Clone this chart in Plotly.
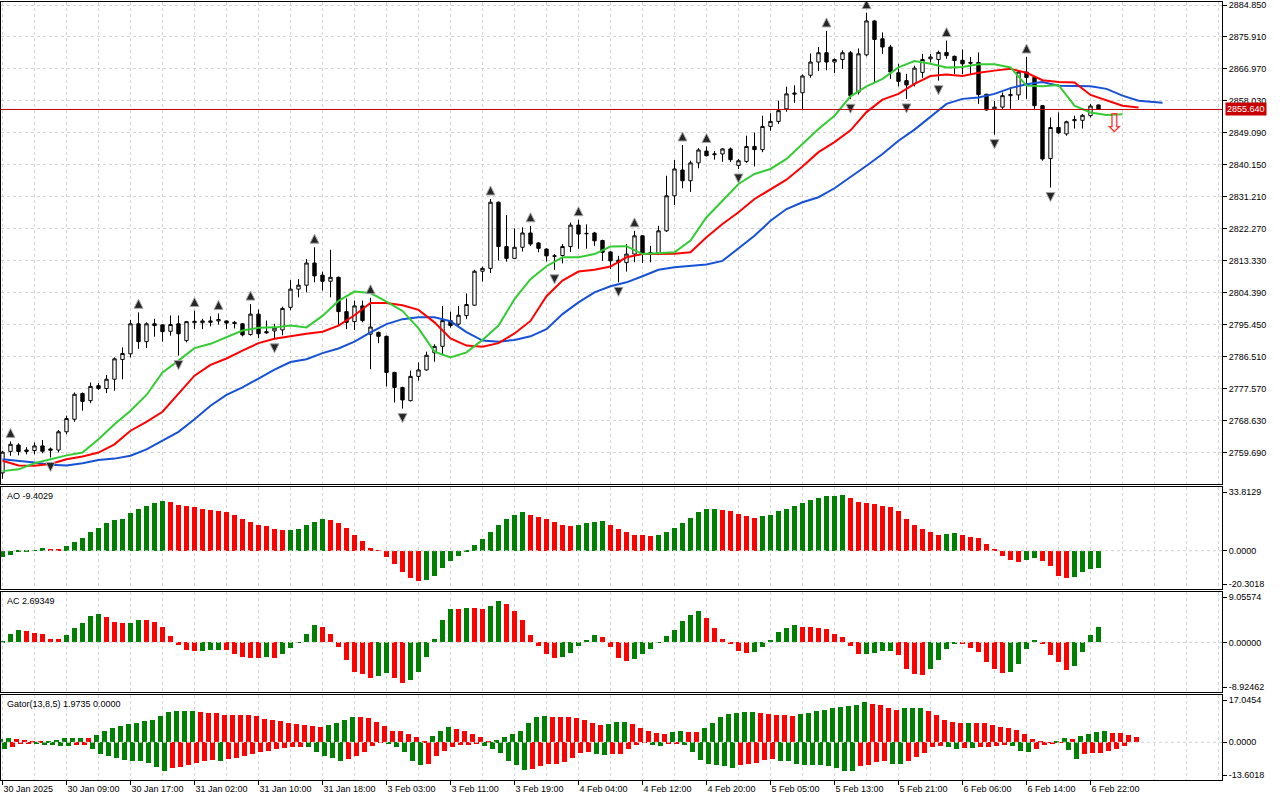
import plotly.graph_objects as go

# ---------------- DATA ----------------
# H1 bars, index 0 = 30 Jan 2025 01:00 ... index 137 = 6 Feb 23:00
opens = [2754.0, 2760.0, 2761.8, 2760.4, 2760.25, 2761.55, 2760.7, 2760.4, 2765.5, 2769.0,
         2776.2, 2774.2, 2778.4, 2777.6, 2780.2, 2785.7, 2787.3, 2795.7, 2790.7, 2795.7,
         2795.4, 2793.6, 2795.7, 2791.0, 2796.0, 2796.0, 2796.1, 2796.5, 2796.5, 2796.1,
         2795.7, 2792.7, 2798.4, 2793.5, 2793.7, 2794.0, 2800.3, 2805.4, 2806.5, 2812.7,
         2809.3, 2807.6, 2808.7, 2799.1, 2796.3, 2800.7, 2792.8, 2793.3, 2792.2, 2782.1,
         2777.9, 2774.2, 2781.0, 2782.8, 2787.6, 2789.4, 2796.6, 2795.6, 2798.0, 2800.9,
         2810.4, 2811.2, 2829.7, 2817.3, 2814.0, 2817.1, 2821.1, 2818.3, 2816.6, 2814.7,
         2814.8, 2817.3, 2823.3, 2821.0, 2821.1, 2819.0, 2815.8, 2813.5, 2812.8, 2815.2,
         2820.3, 2815.6, 2815.4, 2821.7, 2831.5, 2838.7, 2835.7, 2840.7, 2844.0, 2843.0,
         2843.2, 2844.6, 2840.0, 2841.1, 2845.3, 2844.4, 2850.9, 2852.3, 2855.8, 2859.9,
         2860.3, 2865.2, 2868.9, 2871.5, 2868.9, 2869.6, 2871.5, 2860.5, 2870.9, 2880.4,
         2875.4, 2873.1, 2865.9, 2863.7, 2862.8, 2866.0, 2869.8, 2869.6, 2871.6, 2870.5,
         2869.4, 2868.8, 2868.8, 2859.9, 2855.8, 2856.3, 2859.5, 2859.7, 2866.1, 2864.6,
         2856.7, 2841.9, 2850.6, 2848.8, 2852.5, 2852.6, 2853.9, 2856.9]
highs = [2760.2, 2762.8, 2762.3, 2761.2, 2762.5, 2763.2, 2761.1, 2766.0, 2770.0, 2776.5,
         2776.5, 2779.3, 2779.1, 2781.4, 2786.3, 2789.1, 2796.8, 2798.9, 2796.1, 2797.1,
         2795.6, 2798.0, 2798.0, 2796.5, 2799.4, 2797.1, 2797.8, 2798.6, 2796.6, 2796.5,
         2795.9, 2801.2, 2799.7, 2796.6, 2795.7, 2800.5, 2807.9, 2808.2, 2813.8, 2817.1,
         2810.3, 2816.4, 2808.9, 2802.8, 2802.2, 2802.2, 2803.0, 2793.5, 2792.4, 2782.3,
         2778.1, 2782.6, 2784.9, 2787.9, 2790.0, 2800.7, 2799.1, 2800.7, 2804.2, 2810.8,
         2811.7, 2830.6, 2829.9, 2826.1, 2822.4, 2822.7, 2823.1, 2818.5, 2816.8, 2815.2,
         2818.0, 2824.0, 2824.8, 2823.5, 2821.4, 2819.2, 2816.0, 2814.7, 2818.0, 2821.7,
         2820.5, 2817.5, 2823.1, 2837.1, 2841.5, 2845.7, 2841.3, 2844.8, 2845.3, 2844.0,
         2844.8, 2845.0, 2841.8, 2848.3, 2849.2, 2853.9, 2854.6, 2858.1, 2862.0, 2862.4,
         2865.4, 2871.3, 2873.1, 2877.6, 2869.9, 2872.2, 2872.0, 2872.7, 2882.7, 2880.6,
         2877.2, 2873.7, 2868.4, 2865.6, 2867.9, 2871.2, 2871.2, 2872.1, 2874.9, 2870.7,
         2872.4, 2870.3, 2871.6, 2860.0, 2858.0, 2860.4, 2861.8, 2866.3, 2870.3, 2864.8,
         2856.9, 2853.4, 2854.8, 2852.5, 2853.9, 2854.4, 2857.2, 2857.0]
lows = [2752.4, 2758.8, 2758.9, 2759.2, 2759.2, 2759.5, 2758.3, 2759.7, 2764.8, 2768.3,
        2771.4, 2773.5, 2777.2, 2776.3, 2777.0, 2780.2, 2786.3, 2788.7, 2788.9, 2792.1,
        2790.7, 2792.4, 2786.8, 2790.5, 2794.2, 2794.2, 2795.0, 2795.5, 2794.2, 2794.4,
        2792.2, 2792.4, 2791.7, 2792.9, 2791.5, 2792.5, 2799.5, 2803.1, 2804.5, 2807.3,
        2805.0, 2803.1, 2795.3, 2794.2, 2794.0, 2796.1, 2783.0, 2790.3, 2778.2, 2773.7,
        2772.0, 2774.0, 2779.8, 2782.6, 2785.1, 2786.9, 2794.6, 2795.2, 2797.0, 2800.7,
        2807.5, 2809.9, 2813.4, 2813.1, 2813.8, 2815.9, 2817.5, 2815.7, 2813.1, 2810.8,
        2812.6, 2815.8, 2816.7, 2816.7, 2817.5, 2813.3, 2811.0, 2807.3, 2810.3, 2812.9,
        2812.7, 2812.9, 2814.9, 2821.4, 2828.9, 2833.6, 2832.6, 2839.2, 2842.5, 2841.6,
        2841.0, 2841.0, 2839.0, 2840.7, 2839.7, 2843.7, 2849.7, 2851.6, 2855.0, 2857.5,
        2855.5, 2864.5, 2866.4, 2866.6, 2865.8, 2867.0, 2858.5, 2859.8, 2870.5, 2863.2,
        2871.2, 2864.2, 2862.1, 2858.6, 2862.1, 2864.5, 2868.8, 2863.7, 2869.8, 2865.5,
        2865.5, 2865.5, 2857.2, 2855.3, 2848.6, 2855.8, 2855.8, 2858.3, 2858.6, 2855.8,
        2841.3, 2833.8, 2848.8, 2848.3, 2850.3, 2850.3, 2853.4, 2855.5]
closes = [2759.8, 2762.0, 2760.0, 2760.05, 2761.55, 2760.05, 2760.35, 2765.5, 2769.2, 2776.0,
          2774.0, 2778.2, 2777.6, 2780.2, 2785.9, 2787.4, 2795.7, 2790.7, 2795.7, 2795.2,
          2793.5, 2795.5, 2792.9, 2796.3, 2796.4, 2796.5, 2796.5, 2796.9, 2795.9, 2795.8,
          2792.6, 2798.4, 2792.9, 2793.2, 2794.5, 2800.0, 2805.4, 2806.5, 2812.7, 2809.1,
          2807.6, 2808.7, 2799.1, 2796.1, 2800.7, 2796.6, 2794.8, 2792.2, 2782.1, 2777.9,
          2774.4, 2781.0, 2782.8, 2786.9, 2789.4, 2796.6, 2795.2, 2798.1, 2801.1, 2810.4,
          2811.2, 2829.7, 2817.3, 2814.0, 2817.1, 2821.1, 2818.0, 2816.8, 2814.7, 2814.6,
          2817.3, 2823.3, 2820.8, 2820.9, 2818.9, 2815.7, 2813.3, 2812.9, 2815.2, 2820.3,
          2815.5, 2815.2, 2821.7, 2831.5, 2839.0, 2835.7, 2840.7, 2844.3, 2842.7, 2843.2,
          2844.6, 2841.6, 2841.3, 2845.3, 2844.4, 2850.9, 2852.3, 2855.3, 2860.0, 2860.2,
          2865.0, 2868.9, 2871.5, 2868.9, 2869.6, 2871.5, 2859.5, 2871.2, 2880.4, 2875.2,
          2873.1, 2866.1, 2863.5, 2862.5, 2867.2, 2869.6, 2870.3, 2871.6, 2870.7, 2869.3,
          2868.4, 2868.6, 2859.8, 2855.5, 2856.3, 2859.5, 2859.8, 2866.1, 2864.6, 2856.7,
          2841.8, 2850.6, 2849.1, 2852.2, 2852.8, 2854.0, 2856.6, 2855.64]

# Alligator lines (read every 2 bars; drawn shifted into the future)
jaw_x = list(range(0, 146, 2)) + [145]
jaw = [2757.8, 2757.4, 2756.9, 2756.3, 2756.1, 2756.7, 2757.6, 2758.0, 2758.8, 2760.6,
       2763.0, 2765.5, 2769.0, 2772.8, 2775.8, 2777.9, 2780.4, 2782.9, 2785.0, 2785.8,
       2787.5, 2788.8, 2790.7, 2793.3, 2795.6, 2797.0, 2797.5, 2797.5, 2796.4, 2793.4,
       2791.0, 2790.7, 2791.2, 2792.2, 2794.2, 2798.4, 2801.7, 2804.5, 2806.2, 2807.3,
       2809.0, 2810.8, 2811.5, 2811.8, 2812.3, 2813.3, 2816.8, 2820.3, 2824.5, 2827.8,
       2829.7, 2831.1, 2833.6, 2836.7, 2839.9, 2843.2, 2846.9, 2850.0, 2853.5, 2857.2,
       2858.6, 2859.0, 2860.0, 2861.6, 2862.7, 2863.3, 2862.3, 2862.1, 2862.1, 2861.4,
       2859.5, 2858.1, 2857.6, 2857.5]
teeth_x = list(range(0, 143, 2))
teeth = [2757.4, 2756.1, 2756.0, 2756.5, 2757.8, 2758.6, 2759.7, 2762.0, 2765.8, 2768.3,
         2771.1, 2776.0, 2781.2, 2784.2, 2786.0, 2788.2, 2790.3, 2791.5, 2792.3, 2792.9,
         2793.5, 2795.2, 2798.1, 2801.5, 2801.5, 2800.9, 2799.6, 2796.1, 2791.6, 2789.6,
         2789.3, 2790.3, 2793.0, 2796.5, 2803.4, 2807.8, 2810.3, 2810.8, 2811.7, 2814.3,
         2815.2, 2815.2, 2815.3, 2815.7, 2819.9, 2823.6, 2826.9, 2830.6, 2833.4, 2836.0,
         2839.7, 2843.7, 2846.5, 2849.8, 2854.9, 2858.4, 2860.0, 2862.8, 2865.0, 2865.4,
         2865.0, 2865.9, 2866.5, 2867.0, 2865.9, 2863.8, 2863.3, 2863.2, 2859.7, 2858.1,
         2856.7, 2856.2]
lips_x = list(range(0, 141, 2))
lips = [2754.5, 2755.0, 2756.7, 2757.8, 2758.9, 2759.7, 2763.4, 2767.6, 2771.4, 2775.8,
        2782.1, 2785.4, 2788.9, 2790.1, 2791.9, 2793.8, 2794.6, 2794.7, 2795.2, 2794.7,
        2797.9, 2802.1, 2804.7, 2804.3, 2801.9, 2799.3, 2794.4, 2787.9, 2786.3, 2787.7,
        2791.2, 2795.2, 2802.6, 2808.2, 2811.8, 2814.3, 2814.3, 2815.2, 2817.3, 2817.4,
        2815.2, 2815.5, 2815.7, 2819.0, 2825.5, 2830.1, 2834.8, 2837.6, 2839.0, 2841.8,
        2846.0, 2850.2, 2853.9, 2859.3, 2862.1, 2864.2, 2867.4, 2869.2, 2868.4, 2867.4,
        2867.5, 2868.3, 2868.3, 2867.4, 2862.3, 2862.1, 2862.5, 2856.7, 2854.8, 2854.1,
        2854.3]

# Bill Williams fractals (bar indices)
fractal_up_bars = [1, 17, 24, 27, 31, 39, 46, 61, 66, 72, 79, 85, 88, 103, 108, 118, 128]
fractal_down_bars = [6, 22, 34, 50, 69, 77, 92, 106, 113, 117, 124, 131]

# Current sell-signal arrow
signal_bar = [139]
signal_price = [2851.2]

# Awesome Oscillator
ao = [-3.5, -2.2, -0.4, -0.2, 0.3, 1.2, 1.1, 1.0, 2.7, 4.9,
      7.0, 10.2, 12.3, 14.5, 16.1, 17.1, 19.8, 21.9, 23.5, 25.1,
      26.2, 25.7, 24.4, 23.5, 23.0, 22.3, 21.4, 20.9, 20.3, 18.7,
      17.0, 15.5, 13.9, 12.9, 11.3, 10.8, 11.1, 11.6, 13.4, 15.5,
      16.6, 16.1, 14.5, 12.0, 8.1, 5.4, 1.5, -0.1, -3.1, -7.3,
      -11.4, -14.4, -15.9, -15.3, -13.6, -9.3, -5.7, -2.9, -0.3, 3.3,
      6.3, 9.7, 13.9, 17.1, 18.7, 20.3, 19.1, 17.7, 16.8, 15.1,
      13.9, 13.2, 13.5, 14.5, 15.5, 15.6, 13.9, 11.3, 9.7, 8.6,
      8.1, 8.0, 8.6, 9.7, 11.8, 14.5, 17.6, 20.3, 21.9, 22.0,
      21.4, 20.9, 19.3, 18.2, 17.6, 18.2, 18.7, 20.9, 21.9, 24.0,
      25.1, 26.7, 27.8, 28.8, 28.9, 29.4, 27.8, 25.6, 25.1, 24.6,
      23.5, 23.0, 20.9, 17.1, 13.9, 11.3, 9.7, 8.6, 9.1, 9.2,
      8.6, 7.5, 6.5, 3.8, 0.6, -2.6, -4.7, -5.8, -4.7, -3.6,
      -5.2, -7.9, -13.2, -14.3, -13.7, -11.1, -9.5, -9.4029]

# Accelerator Oscillator
ac = [0.1, 1.56, 2.22, 2.10, 1.74, 1.56, 0.66, 0.62, 1.38, 2.64,
      3.54, 4.79, 5.15, 4.61, 3.71, 3.42, 3.54, 4.07, 4.05, 3.71,
      2.82, 1.20, -0.54, -1.44, -1.62, -1.60, -1.44, -1.32, -1.44, -2.16,
      -2.70, -2.88, -2.90, -2.70, -2.88, -2.16, -0.96, 0.06, 1.56, 3.18,
      2.82, 1.56, -0.78, -3.24, -5.39, -5.75, -6.47, -6.11, -5.57, -6.47,
      -7.37, -6.83, -5.39, -2.70, 0.60, 4.07, 6.05, 6.00, 6.20, 6.15,
      6.05, 6.59, 7.49, 6.95, 5.69, 4.07, 1.38, -0.72, -2.16, -2.88,
      -2.70, -1.98, -0.72, 0.48, 1.38, 1.02, -0.78, -2.76, -3.42, -3.06,
      -2.16, -1.26, 0.06, 1.20, 2.28, 3.89, 4.97, 5.69, 4.43, 2.64,
      0.66, -0.36, -1.62, -1.98, -1.80, -0.90, 0.48, 1.92, 2.64, 3.18,
      2.82, 2.80, 2.64, 2.46, 1.56, 1.02, -0.72, -2.16, -2.14, -1.98,
      -1.62, -1.60, -2.34, -4.85, -5.75, -5.93, -4.85, -3.24, -1.26, -0.36,
      -0.38, -1.08, -1.80, -3.60, -4.85, -5.57, -5.39, -3.95, -1.26, 0.48,
      -0.36, -2.34, -3.60, -5.03, -4.31, -1.80, 1.38, 2.69349]

# Gator oscillator (magnitudes; upper plotted up, lower plotted down)
gator_upper = [1.26, 1.50, 1.35, 1.00, 0.50, 0.30, 0.50, 1.00, 1.45, 1.50,
               1.55, 1.50, 2.50, 3.90, 5.10, 6.00, 6.60, 7.00, 7.80, 7.90,
               9.40, 10.90, 11.10, 11.15, 11.20, 10.90, 10.70, 10.50, 10.00, 9.80,
               9.75, 9.70, 9.30, 8.40, 8.10, 7.50, 7.00, 6.60, 6.30, 5.80,
               5.50, 6.40, 7.00, 8.20, 9.00, 8.95, 8.90, 7.30, 5.80, 4.20,
               4.00, 2.90, 1.90, 0.40, 2.20, 4.20, 5.50, 4.80, 4.00, 2.90,
               1.90, 0.30, 0.70, 1.90, 2.90, 4.20, 6.90, 9.00, 9.30, 9.10,
               9.05, 9.00, 8.70, 8.00, 6.90, 6.20, 6.55, 7.30, 7.35, 6.55,
               5.10, 4.00, 3.30, 2.90, 3.70, 4.00, 3.70, 3.60, 5.10, 6.90,
               9.20, 10.20, 10.50, 10.85, 10.90, 10.60, 10.30, 9.80, 9.70, 9.40,
               10.20, 10.50, 11.20, 11.60, 12.30, 12.70, 13.00, 13.40, 14.40, 13.90,
               13.40, 12.30, 11.60, 12.30, 12.35, 12.40, 11.20, 9.70, 8.00, 7.30,
               6.90, 6.95, 6.85, 6.80, 6.10, 5.50, 5.10, 4.40, 2.90, 1.15,
               0.30, 0.10, 0.60, 1.40, 1.20, 2.20, 2.90, 3.70, 3.90, 3.30,
               3.25, 2.60, 1.9735]
gator_lower = [2.30, 1.70, 0.60, 0.30, 0.40, 0.90, 0.95, 1.20, 1.25, 1.00,
               0.90, 2.60, 4.10, 5.10, 5.60, 6.30, 6.80, 6.85, 7.40, 8.90,
               10.30, 9.40, 9.00, 8.30, 7.40, 6.60, 6.50, 6.80, 6.00, 5.50,
               4.80, 4.20, 3.60, 3.20, 2.60, 2.10, 1.70, 1.60, 1.80, 3.60,
               4.80, 5.60, 6.60, 6.00, 5.00, 3.60, 1.20, 0.20, 0.35, 1.80,
               3.60, 6.60, 8.10, 7.80, 4.80, 3.00, 1.80, 0.90, 0.85, 0.50,
               1.20, 2.40, 3.80, 6.60, 8.10, 9.90, 9.50, 8.40, 7.90, 7.80,
               7.20, 5.60, 4.00, 3.55, 4.15, 4.75, 4.27, 4.15, 2.60, 1.15,
               0.20, 1.15, 1.40, 0.55, 0.50, 0.90, 3.55, 6.30, 8.00, 8.10,
               8.60, 9.10, 8.10, 8.00, 7.40, 6.55, 6.00, 6.60, 6.90, 7.75,
               8.10, 8.20, 8.35, 8.45, 9.30, 10.30, 10.50, 8.60, 8.35, 7.15,
               6.90, 7.75, 7.80, 6.90, 5.35, 3.80, 1.85, 1.40, 1.75, 2.35,
               2.00, 2.10, 1.75, 1.60, 1.40, 0.90, 1.50, 3.30, 3.35, 2.35,
               1.15, 0.30, 0.20, 2.95, 5.95, 4.15, 4.00, 3.80, 3.30, 2.60,
               1.40]

# Axis scales shown on the chart
price_tick0, price_step = 2759.69, 8.94
ao_range = [-20.3018, 33.8129]
ac_range = [-8.92462, 9.05574]
gator_range = [-13.6018, 17.0454]

x_tick_labels = ["30 Jan 2025", "30 Jan 09:00", "30 Jan 17:00", "31 Jan 02:00", "31 Jan 10:00",
                 "31 Jan 18:00", "3 Feb 03:00", "3 Feb 11:00", "3 Feb 19:00", "4 Feb 04:00",
                 "4 Feb 12:00", "4 Feb 20:00", "5 Feb 05:00", "5 Feb 13:00", "5 Feb 21:00",
                 "6 Feb 06:00", "6 Feb 14:00", "6 Feb 22:00"]
x_tick_bars = [8 * i for i in range(len(x_tick_labels))]

# ---------------- LAYOUT GEOMETRY ----------------
W, H = 1280, 800
ML, MR, MT, MB = 1, 58, 2, 20
PB = H - MB
PH = H - MT - MB
BAR_PX = 8.0
FIRST_BAR_PX = 2.5


def ydom(top_px, bot_px):
    return [(PB - bot_px) / PH, (PB - top_px) / PH]


panes = {"price": (2, 484), "ao": (487, 589), "ac": (592, 692), "gator": (695, 780)}
x_min = (ML - FIRST_BAR_PX) / BAR_PX
x_max = (W - MR - FIRST_BAR_PX) / BAR_PX

PX_PER_PRICE = 3.571
price_top = price_tick0 + 14 * price_step + 3 / PX_PER_PRICE
price_bot = 2750.9

GREEN = "#008000"
RED = "#ff0000"
GRID = "#d4d4d4"
FONT = "Liberation Sans, Arial, sans-serif"

bars = list(range(len(closes)))


def trend_colors(vals, absolute=False):
    out = []
    for i, v in enumerate(vals):
        if i == 0:
            out.append(GREEN)
            continue
        a, b = (abs(v), abs(vals[i - 1])) if absolute else (v, vals[i - 1])
        out.append(GREEN if a > b else RED)
    return out


fig = go.Figure()

fig.add_trace(go.Candlestick(
    x=bars, open=opens, high=highs, low=lows, close=closes,
    increasing=dict(fillcolor="white", line=dict(color="black", width=1)),
    decreasing=dict(fillcolor="black", line=dict(color="black", width=1)),
    whiskerwidth=0, xaxis="x", yaxis="y", hoverinfo="skip"))

fig.add_trace(go.Scatter(x=jaw_x, y=jaw, mode="lines", line=dict(color="#1652d8", width=2),
                         xaxis="x", yaxis="y"))
fig.add_trace(go.Scatter(x=teeth_x, y=teeth, mode="lines", line=dict(color="#ff0000", width=2),
                         xaxis="x", yaxis="y"))
fig.add_trace(go.Scatter(x=lips_x, y=lips, mode="lines", line=dict(color="#33cc33", width=2),
                         xaxis="x", yaxis="y"))

up_gap = 13 / PX_PER_PRICE
dn_gap = 14 / PX_PER_PRICE
fig.add_trace(go.Scatter(
    x=fractal_up_bars, y=[highs[i] + up_gap for i in fractal_up_bars], mode="markers",
    marker=dict(symbol="arrow-up", size=9, color="#262626", line=dict(color="#a8a8a8", width=1)),
    xaxis="x", yaxis="y"))
fig.add_trace(go.Scatter(
    x=fractal_down_bars, y=[lows[i] - dn_gap for i in fractal_down_bars], mode="markers",
    marker=dict(symbol="arrow-down", size=9, color="#262626", line=dict(color="#a8a8a8", width=1)),
    xaxis="x", yaxis="y"))

fig.add_trace(go.Scatter(
    x=signal_bar, y=signal_price, mode="text", text=["\u21e9"],
    textfont=dict(family="DejaVu Sans", size=26, color="#ff3030"),
    xaxis="x", yaxis="y"))

fig.add_trace(go.Bar(x=bars, y=ao, marker=dict(color=trend_colors(ao), line=dict(width=0)),
                     width=0.55, xaxis="x2", yaxis="y2"))
fig.add_trace(go.Bar(x=bars, y=ac, marker=dict(color=trend_colors(ac), line=dict(width=0)),
                     width=0.55, xaxis="x3", yaxis="y3"))
fig.add_trace(go.Bar(x=list(range(len(gator_upper))), y=gator_upper,
                     marker=dict(color=trend_colors(gator_upper, True), line=dict(width=0)),
                     width=0.55, xaxis="x4", yaxis="y4"))
fig.add_trace(go.Bar(x=list(range(len(gator_lower))), y=[-v for v in gator_lower],
                     marker=dict(color=trend_colors(gator_lower, True), line=dict(width=0)),
                     width=0.55, xaxis="x4", yaxis="y4"))


def xaxis_cfg(anchor, labels):
    return dict(
        anchor=anchor, domain=[0, 1], range=[x_min, x_max],
        tickmode="array", tickvals=x_tick_bars,
        ticktext=x_tick_labels if labels else [""] * len(x_tick_bars),
        showticklabels=labels, ticks="outside" if labels else "", ticklen=4,
        tickcolor="black", ticklabelposition="outside right",
        showgrid=True, gridcolor=GRID, griddash="3px,3px", gridwidth=1,
        minor=dict(tickmode="linear", tick0=0, dtick=4, showgrid=True, gridcolor=GRID,
                   griddash="3px,3px", ticks=""),
        showline=True, mirror=True, linecolor="black", linewidth=1, zeroline=False,
        rangeslider=dict(visible=False),
        tickfont=dict(family=FONT, size=9, color="black"))


def sub_yaxis(rng, pane, fmt):
    top, bot = panes[pane]
    per_px = (rng[1] - rng[0]) / (bot - top)
    inset = 5 * per_px
    return dict(
        anchor="x" + {"ao": "2", "ac": "3", "gator": "4"}[pane], domain=ydom(top, bot),
        range=rng, side="right", tickmode="array",
        tickvals=[rng[1] - inset, 0, rng[0] + inset],
        ticktext=[fmt.format(rng[1]), fmt.format(0), fmt.format(rng[0])],
        ticks="outside", ticklen=4, tickcolor="black", showgrid=False, zeroline=False,
        showline=True, mirror=True, linecolor="black", linewidth=1,
        tickfont=dict(family=FONT, size=9, color="black"))


fig.update_layout(
    width=W, height=H, margin=dict(l=ML, r=MR, t=MT, b=MB),
    paper_bgcolor="white", plot_bgcolor="white", showlegend=False, boxgap=0.4,
    hovermode=False, bargap=0,
    font=dict(family=FONT, size=9, color="black"),
    xaxis=xaxis_cfg("y", False),
    xaxis2=xaxis_cfg("y2", False),
    xaxis3=xaxis_cfg("y3", False),
    xaxis4=xaxis_cfg("y4", True),
    yaxis=dict(anchor="x", domain=ydom(*panes["price"]), range=[price_bot, price_top],
               side="right", tickmode="linear", tick0=price_tick0, dtick=price_step,
               tickformat=".3f", ticks="outside", ticklen=4, tickcolor="black",
               showgrid=True, gridcolor=GRID, griddash="3px,3px", gridwidth=1,
               zeroline=False, showline=True, mirror=True, linecolor="black", linewidth=1,
               tickfont=dict(family=FONT, size=9, color="black")),
    yaxis2=sub_yaxis(ao_range, "ao", "{:.4f}"),
    yaxis3=sub_yaxis(ac_range, "ac", "{:.5f}"),
    yaxis4=sub_yaxis(gator_range, "gator", "{:.4f}"),
)

# zero reference lines in the oscillator panes
for ax in ("2", "3", "4"):
    fig.add_shape(type="line", xref="x%s domain" % ax, yref="y" + ax, x0=0, x1=1, y0=0, y1=0,
                  line=dict(color="#d0d0d0", width=1, dash="3px,3px"), layer="above")

# bid line and price label
last_price = closes[-1]
fig.add_shape(type="line", xref="x domain", yref="y", x0=0, x1=1, y0=last_price, y1=last_price,
              line=dict(color="#c00000", width=1), layer="above")
fig.add_annotation(xref="paper", yref="y", x=1, y=last_price, xanchor="left", yanchor="middle",
                   xshift=3, text="%.3f" % last_price, showarrow=False,
                   font=dict(family=FONT, size=9, color="white"), bgcolor="#c80000", borderpad=1)

# indicator captions
captions = [("ao", "AO %.4f" % ao[-1]),
            ("ac", "AC %.5f" % ac[-1]),
            ("gator", "Gator(13,8,5) %.4f %.4f" % (gator_upper[-1], 0.0))]
for pane, txt in captions:
    top = panes[pane][0]
    fig.add_annotation(xref="paper", yref="paper", x=0.003, y=(PB - top - 2) / PH,
                       xanchor="left", yanchor="top", text=txt, showarrow=False,
                       font=dict(family=FONT, size=9, color="black"))

fig.write_html("out.html", config={"displayModeBar": False},
               post_script="document.body.style.margin='0';document.body.style.overflow='hidden';")
